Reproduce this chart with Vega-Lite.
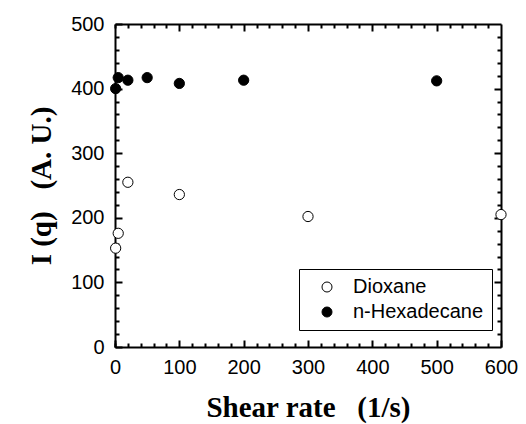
{
  "$schema": "https://vega.github.io/schema/vega-lite/v6.json",
  "width": 386,
  "height": 323,
  "autosize": "none",
  "padding": {"left": 115, "top": 24, "right": 25, "bottom": 77},
  "background": "white",
  "config": {
    "view": {"stroke": null},
    "axis": {
      "domainColor": "black",
      "domainWidth": 2,
      "tickColor": "black",
      "tickWidth": 2,
      "grid": false,
      "labelFlush": false,
      "labelFont": "Liberation Sans",
      "labelFontSize": 20,
      "labelColor": "black",
      "titleFont": "Liberation Serif",
      "titleFontSize": 29,
      "titleFontWeight": "bold",
      "titleColor": "black"
    }
  },
  "data": {
    "values": [
      {"series": "Dioxane", "rate": 1, "I": 153},
      {"series": "Dioxane", "rate": 5, "I": 176},
      {"series": "Dioxane", "rate": 20, "I": 255},
      {"series": "Dioxane", "rate": 100, "I": 236},
      {"series": "Dioxane", "rate": 300, "I": 202},
      {"series": "Dioxane", "rate": 600, "I": 205},
      {"series": "n-Hexadecane", "rate": 1, "I": 400},
      {"series": "n-Hexadecane", "rate": 5, "I": 417},
      {"series": "n-Hexadecane", "rate": 20, "I": 413},
      {"series": "n-Hexadecane", "rate": 50, "I": 417},
      {"series": "n-Hexadecane", "rate": 100, "I": 408},
      {"series": "n-Hexadecane", "rate": 200, "I": 413},
      {"series": "n-Hexadecane", "rate": 500, "I": 412}
    ]
  },
  "layer": [
    {
      "mark": {"type": "point", "opacity": 0},
      "encoding": {
        "x": {"field": "rate", "type": "quantitative", "scale": {"domain": [0, 600], "nice": false},
          "axis": {"orient": "bottom", "values": [0,20,40,60,80,120,140,160,180,220,240,260,280,320,340,360,380,420,440,460,480,520,540,560,580], "labels": false, "domain": false, "tickSize": -4, "title": null}},
        "y": {"field": "I", "type": "quantitative", "scale": {"domain": [0, 500], "nice": false},
          "axis": {"orient": "left", "values": [20,40,60,80,120,140,160,180,220,240,260,280,320,340,360,380,420,440,460,480], "labels": false, "domain": false, "tickSize": -4, "title": null}}
      }
    },
    {
      "mark": {"type": "point", "opacity": 0},
      "encoding": {
        "x": {"field": "rate", "type": "quantitative",
          "axis": {"orient": "top", "values": [0,20,40,60,80,120,140,160,180,220,240,260,280,320,340,360,380,420,440,460,480,520,540,560,580], "labels": false, "domain": true, "tickSize": -4, "title": null}},
        "y": {"field": "I", "type": "quantitative",
          "axis": {"orient": "right", "values": [20,40,60,80,120,140,160,180,220,240,260,280,320,340,360,380,420,440,460,480], "labels": false, "domain": true, "tickSize": -4, "title": null}}
      }
    },
    {
      "mark": {"type": "point", "opacity": 0},
      "encoding": {
        "x": {"field": "rate", "type": "quantitative",
          "axis": {"orient": "top", "values": [100,200,300,400,500], "labels": false, "domain": false, "tickSize": -7, "title": null}},
        "y": {"field": "I", "type": "quantitative",
          "axis": {"orient": "right", "values": [100,200,300,400], "labels": false, "domain": false, "tickSize": -7, "title": null}}
      }
    },
    {
      "mark": {"type": "point", "shape": "circle", "filled": true, "size": 105, "stroke": "black", "strokeWidth": 1, "opacity": 1},
      "encoding": {
        "x": {"field": "rate", "type": "quantitative",
          "axis": {"orient": "bottom", "values": [0,100,200,300,400,500,600], "tickSize": -7, "labelPadding": 17, "title": "Shear rate \u00a0 (1/s)", "titlePadding": 16}},
        "y": {"field": "I", "type": "quantitative",
          "axis": {"orient": "left", "values": [0,100,200,300,400,500], "tickSize": -7, "labelPadding": 18, "title": "I (q) \u00a0 (A. U.)", "titlePadding": 14}},
        "fill": {"field": "series", "type": "nominal",
          "scale": {"domain": ["Dioxane", "n-Hexadecane"], "range": ["white", "black"]},
          "legend": {
            "title": null,
            "orient": "none",
            "legendX": 184,
            "legendY": 245,
            "strokeColor": "black",
            "fillColor": "white",
            "padding": 8,
            "symbolType": "circle",
            "symbolSize": 100,
            "symbolStrokeColor": "black",
            "symbolStrokeWidth": 1,
            "symbolOffset": 10,
            "labelOffset": 16,
            "labelFont": "Liberation Sans",
            "labelFontSize": 20,
            "labelColor": "black",
            "rowPadding": 5
          }}
      }
    }
  ],
  "resolve": {"axis": {"x": "independent", "y": "independent"}}
}
